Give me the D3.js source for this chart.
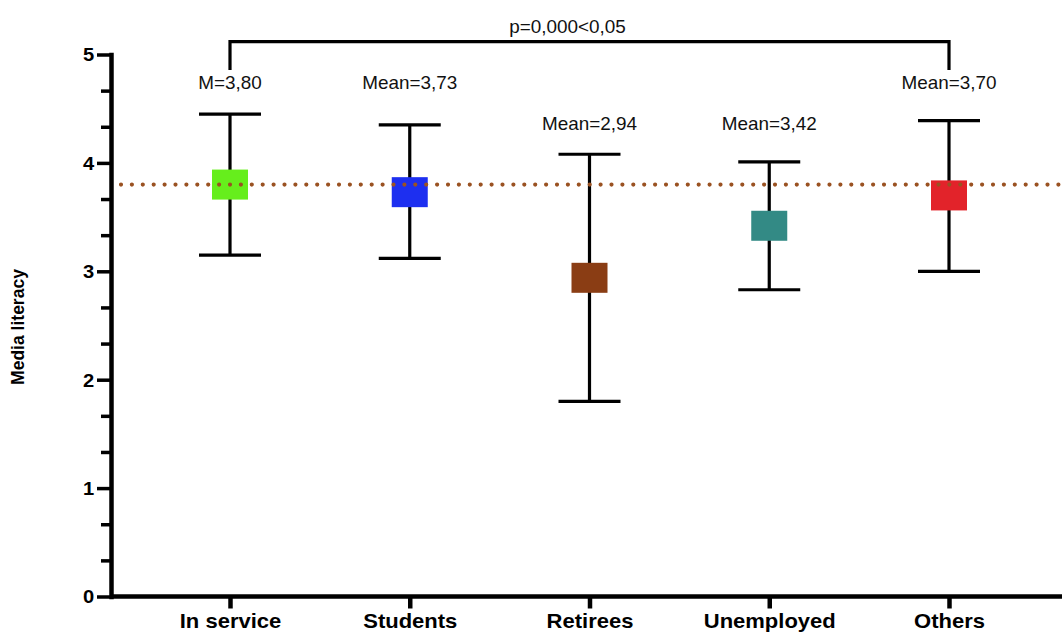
<!DOCTYPE html>
<html>
<head>
<meta charset="utf-8">
<script src="https://cdn.jsdelivr.net/npm/d3@7"></script>
<style>
  html, body { margin: 0; padding: 0; background: #ffffff; }
  svg { display: block; font-family: "Liberation Sans", Arial, Helvetica, sans-serif; }
</style>
</head>
<body>
<svg id="chart" width="1062" height="633"></svg>
<script>
// Media literacy by employment status: group means with error bars
const categories = ["In service", "Students", "Retirees", "Unemployed", "Others"];
const means      = [3.80, 3.73, 2.94, 3.42, 3.70];
const upperBound = [4.45, 4.35, 4.08, 4.01, 4.39];
const lowerBound = [3.15, 3.12, 1.80, 2.83, 3.00];
const meanLabels = ["M=3,80", "Mean=3,73", "Mean=2,94", "Mean=3,42", "Mean=3,70"];
const boxColors  = ["#66ee1c", "#1d2ff0", "#8a3d14", "#338a85", "#e2232a"];
const yTickValues = [0, 1, 2, 3, 4, 5];
const yTitle = "Media literacy";
const significanceText = "p=0,000<0,05";
const referenceLevel = means[0];

const width = 1062, height = 633;
const axisX = 111, axisY = 596.5, topY = 54.5;
const svg = d3.select("#chart");
svg.append("rect").attr("width", width).attr("height", height).attr("fill", "#fff");

const y = d3.scaleLinear().domain([0, 5]).range([axisY, topY]);
const x = d3.scalePoint().domain(categories).range([230, 949]);

const stretch = "scale(1.08,1)";
const rows = categories.map((c, i) => ({
  cat: c, mean: means[i], hi: upperBound[i], lo: lowerBound[i],
  label: meanLabels[i], color: boxColors[i]
}));

// Y axis: integer ticks with two minor ticks between each
const minorStep = 1 / 3;
const yTicksAll = d3.range(0, 5 + 1e-9, minorStep).map(v => +v.toFixed(4));
const isMajor = v => yTickValues.some(t => Math.abs(t - v) < 1e-6);
const yAxis = d3.axisLeft(y)
  .tickValues(yTicksAll)
  .tickSize(14)
  .tickSizeOuter(0)
  .tickFormat(v => isMajor(v) ? d3.format("d")(Math.round(v)) : "");
const gy = svg.append("g").attr("transform", `translate(${axisX},0)`).call(yAxis);
gy.select(".domain").attr("stroke", "#000").attr("stroke-width", 4.5).attr("stroke-linecap", "square");
gy.selectAll(".tick line")
  .attr("stroke", "#000").attr("stroke-width", 3.5)
  .attr("x2", d => isMajor(d) ? -14 : -10);
gy.selectAll(".tick text")
  .attr("x", -15).attr("dy", "0.36em")
  .attr("transform", "scale(1.12,1)")
  .attr("font-size", 18).attr("font-weight", "bold").attr("fill", "#000");

// X axis with category labels
const xAxis = d3.axisBottom(x).tickSize(12).tickSizeOuter(0);
const gx = svg.append("g").attr("transform", `translate(0,${axisY})`).call(xAxis);
gx.select(".domain").remove();
gx.insert("line", ":first-child")
  .attr("x1", axisX).attr("x2", width).attr("y1", 0).attr("y2", 0)
  .attr("stroke", "#000").attr("stroke-width", 4.5);
gx.selectAll(".tick line").attr("stroke", "#000").attr("stroke-width", 4.5);
gx.selectAll(".tick text")
  .attr("y", 0).attr("dy", 0)
  .attr("transform", "translate(0,31.5) scale(1.1,1)")
  .attr("font-size", 20).attr("font-weight", "bold").attr("fill", "#000");

// Y axis title
svg.append("text")
  .attr("transform", `translate(24,327) rotate(-90)`)
  .attr("text-anchor", "middle")
  .attr("font-size", 17.5).attr("font-weight", "bold").attr("fill", "#000")
  .text(yTitle);

// Error bars
const capHalf = 31;
const bars = svg.append("g").selectAll("g").data(rows).join("g");
bars.append("line")
  .attr("x1", d => x(d.cat)).attr("x2", d => x(d.cat))
  .attr("y1", d => y(d.hi)).attr("y2", d => y(d.lo))
  .attr("stroke", "#000").attr("stroke-width", 3.2);
bars.append("line")
  .attr("x1", d => x(d.cat) - capHalf).attr("x2", d => x(d.cat) + capHalf)
  .attr("y1", d => y(d.hi)).attr("y2", d => y(d.hi))
  .attr("stroke", "#000").attr("stroke-width", 3.2);
bars.append("line")
  .attr("x1", d => x(d.cat) - capHalf).attr("x2", d => x(d.cat) + capHalf)
  .attr("y1", d => y(d.lo)).attr("y2", d => y(d.lo))
  .attr("stroke", "#000").attr("stroke-width", 3.2);

// Mean markers
const boxW = 36, boxH = 30;
bars.append("rect")
  .attr("x", d => x(d.cat) - boxW / 2)
  .attr("y", d => y(d.mean) - boxH / 2)
  .attr("width", boxW).attr("height", boxH)
  .attr("fill", d => d.color);

// Mean labels: upper row when the error bar reaches high, lower row otherwise
const labelBaseline = d => d.hi > 4.2 ? y(4.68) : y(4.30);
bars.append("text")
  .attr("transform", d => `translate(${x(d.cat)},${labelBaseline(d)}) ${stretch}`)
  .attr("text-anchor", "middle")
  .attr("font-size", 17.5).attr("fill", "#111")
  .text(d => d.label);

// Dotted reference line at the first group's mean
svg.append("line")
  .attr("x1", axisX + 10).attr("x2", width)
  .attr("y1", y(referenceLevel)).attr("y2", y(referenceLevel))
  .attr("stroke", "#9a5222").attr("stroke-width", 4.2)
  .attr("stroke-linecap", "round").attr("stroke-dasharray", "0,10.9");

// Significance bracket between first and last groups
const bx1 = x(categories[0]), bx2 = x(categories[categories.length - 1]);
const bracketTop = 41.7, bracketBottom = 70;
svg.append("path")
  .attr("d", d3.line()([[bx1, bracketBottom], [bx1, bracketTop], [bx2, bracketTop], [bx2, bracketBottom]]))
  .attr("fill", "none").attr("stroke", "#000").attr("stroke-width", 3.2);
svg.append("text")
  .attr("transform", `translate(${(bx1 + bx2) / 2 - 22},33) ${stretch}`)
  .attr("text-anchor", "middle")
  .attr("font-size", 17.5).attr("fill", "#111")
  .text(significanceText);
</script>
</body>
</html>
